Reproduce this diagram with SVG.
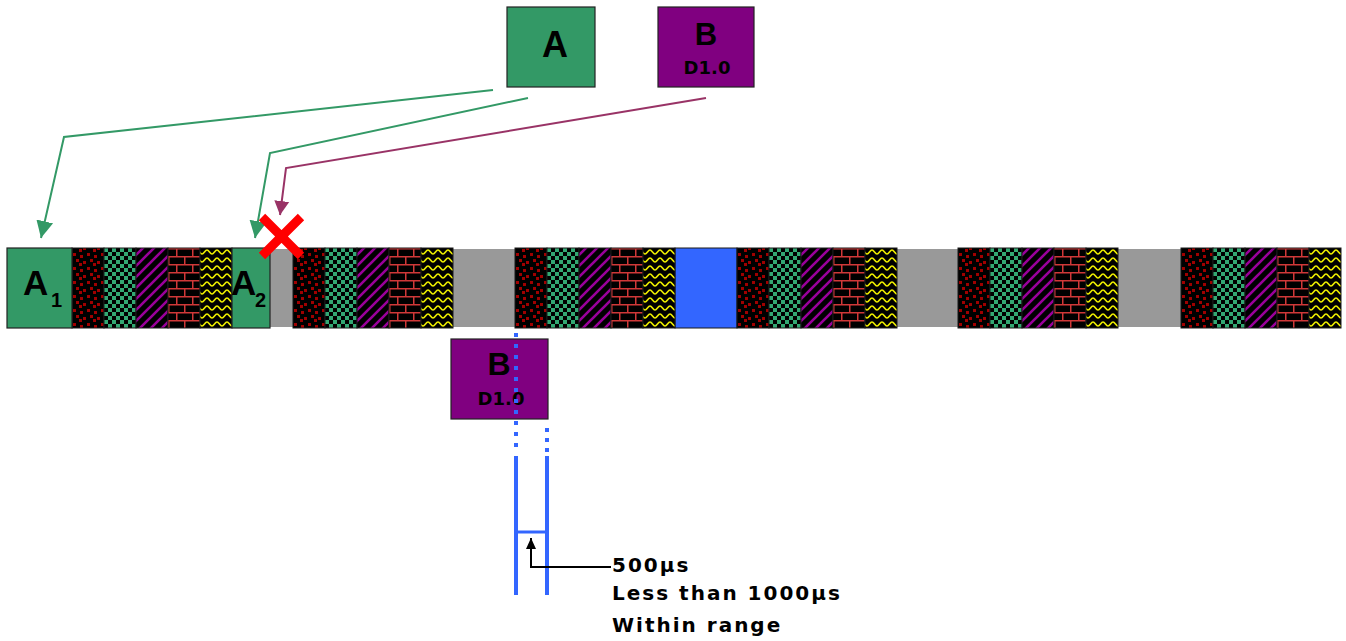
<svg xmlns="http://www.w3.org/2000/svg" width="1346" height="641" viewBox="0 0 1346 641">
<style>
.t{font-family:"Liberation Sans",Arial,sans-serif;font-weight:bold;fill:#000}
.d{font-family:"DejaVu Sans",Verdana,sans-serif;font-weight:bold;fill:#000}
.blk{stroke:#1a1a1a;stroke-width:1}
.gray{fill:#999999}
.grn{fill:#339966;stroke:#222;stroke-width:1.2}
.pur{fill:#800080;stroke:#222;stroke-width:1.2}
.cg{fill:none;stroke:#339966;stroke-width:2}
.cp{fill:none;stroke:#993366;stroke-width:2}
.bl{stroke:#3366ff;fill:none}
</style>
<defs>
<pattern id="pDots" patternUnits="userSpaceOnUse" width="14" height="14">
<rect width="14" height="14" fill="#000"/>
<g fill="#a00000">
<rect x="1" y="1" width="3" height="3"/><rect x="8" y="3" width="3" height="3"/>
<rect x="4" y="7" width="3" height="3"/><rect x="11" y="9" width="3" height="3"/>
<rect x="7" y="11" width="3" height="3"/>
</g>
</pattern>
<pattern id="pCheck" patternUnits="userSpaceOnUse" width="8" height="8">
<rect width="8" height="8" fill="#000"/>
<rect x="0" y="0" width="4" height="4" fill="#33a873"/>
<rect x="4" y="4" width="4" height="4" fill="#33a873"/>
</pattern>
<pattern id="pStripe" patternUnits="userSpaceOnUse" width="11" height="11">
<rect width="11" height="11" fill="#000"/>
<path d="M0,11 L11,0 M-5.5,5.5 L5.5,-5.5 M5.5,16.5 L16.5,5.5" stroke="#99009a" stroke-width="2.6"/>
</pattern>
<pattern id="pBrick" patternUnits="userSpaceOnUse" width="16" height="16">
<rect width="16" height="16" fill="#000"/>
<path d="M0,0.75 H16 M0,8.75 H16 M0.75,0 V8.75 M8.75,8.75 V16" stroke="#d03838" stroke-width="1.5"/>
</pattern>
<pattern id="pWave" patternUnits="userSpaceOnUse" width="10" height="8">
<rect width="10" height="8" fill="#000"/>
<path d="M0,6 C2,6 3,2 5,2 C7,2 8,6 10,6" stroke="#eeee00" stroke-width="1.6" fill="none"/>
</pattern>
<g id="grp">
<rect class="blk" x="0" y="248" width="32" height="80" fill="url(#pDots)"/>
<rect class="blk" x="32" y="248" width="32" height="80" fill="url(#pCheck)"/>
<rect class="blk" x="64" y="248" width="32" height="80" fill="url(#pStripe)"/>
<rect class="blk" x="96" y="248" width="32" height="80" fill="url(#pBrick)"/>
<rect class="blk" x="128" y="248" width="32" height="80" fill="url(#pWave)"/>
</g>
<marker id="mG" markerUnits="userSpaceOnUse" markerWidth="18" markerHeight="18" viewBox="0 0 18 18" refX="17" refY="9" orient="auto">
<path d="M0,0.5 L17,9 L0,17.5 Z" fill="#339966"/>
</marker>
<marker id="mP" markerUnits="userSpaceOnUse" markerWidth="16" markerHeight="16" viewBox="0 0 16 16" refX="14" refY="8" orient="auto">
<path d="M0,0.5 L14,8 L0,15.5 Z" fill="#993366"/>
</marker>
<marker id="mK" markerUnits="userSpaceOnUse" markerWidth="12" markerHeight="12" viewBox="0 0 12 12" refX="11" refY="6" orient="auto">
<path d="M0,1 L11,6 L0,11 Z" fill="#000"/>
</marker>
</defs>

<g id="timeline">
<rect class="gray" x="270" y="249" width="23" height="78"/>
<rect class="gray" x="453" y="249" width="62" height="78"/>
<rect class="gray" x="897" y="249" width="61" height="78"/>
<rect class="gray" x="1118" y="249" width="63" height="78"/>
<rect x="675" y="248" width="62" height="80" fill="#3366ff" stroke="#1a1a1a" stroke-width="1"/>
<use href="#grp" x="72"/>
<use href="#grp" x="293"/>
<use href="#grp" x="515"/>
<use href="#grp" x="737"/>
<use href="#grp" x="958"/>
<use href="#grp" x="1181"/>
</g>

<g id="slotA1">
<rect class="grn" x="7" y="248" width="65" height="80"/>
<text class="t" x="23" y="295" font-size="35">A</text>
<text class="t" x="51" y="307" font-size="20">1</text>
</g>
<g id="slotA2">
<rect class="grn" x="232" y="248" width="38" height="80"/>
<text class="t" x="231" y="295" font-size="35">A</text>
<text class="t" x="255" y="307" font-size="20">2</text>
</g>

<g id="nodeA">
<rect class="grn" x="507" y="7" width="88" height="80"/>
<text class="t" x="555" y="57" font-size="36" text-anchor="middle">A</text>
</g>
<g id="nodeB">
<rect class="pur" x="658" y="7" width="96" height="80"/>
<text class="t" x="706" y="45" font-size="31" text-anchor="middle">B</text>
<text class="d" x="707" y="74" font-size="18" text-anchor="middle">D1.0</text>
</g>

<g id="connectors">
<polyline class="cg" points="493,90 64,137 41,238" marker-end="url(#mG)"/>
<polyline class="cg" points="528,98 270,153 255,238" marker-end="url(#mG)"/>
<polyline class="cp" points="706,98 286,168 280,215" marker-end="url(#mP)"/>
</g>

<g id="conflict">
<path d="M262,217 L301,256 M301,217 L262,256" stroke="#ff0000" stroke-width="9" fill="none"/>
</g>

<g id="nodeB2">
<rect class="pur" x="451" y="339" width="97" height="80"/>
<text class="t" x="499" y="375" font-size="32" text-anchor="middle">B</text>
<text class="d" x="501" y="405" font-size="18" text-anchor="middle">D1.0</text>
</g>

<g id="measure">
<line class="bl" x1="516" y1="333" x2="516" y2="452" stroke-width="4" stroke-dasharray="4 7"/>
<line class="bl" x1="547" y1="428" x2="547" y2="452" stroke-width="4" stroke-dasharray="4 6"/>
<line class="bl" x1="516" y1="456" x2="516" y2="595" stroke-width="4"/>
<line class="bl" x1="547" y1="456" x2="547" y2="595" stroke-width="4"/>
<line class="bl" x1="516" y1="532" x2="547" y2="532" stroke-width="3"/>
<polyline points="611,567 531,567 531,538" fill="none" stroke="#000" stroke-width="2" marker-end="url(#mK)"/>
<text class="d" font-size="20" letter-spacing="2">
<tspan x="612" y="572">500µs</tspan>
<tspan x="612" y="600">Less than 1000µs</tspan>
<tspan x="612" y="632">Within range</tspan>
</text>
</g>
</svg>
